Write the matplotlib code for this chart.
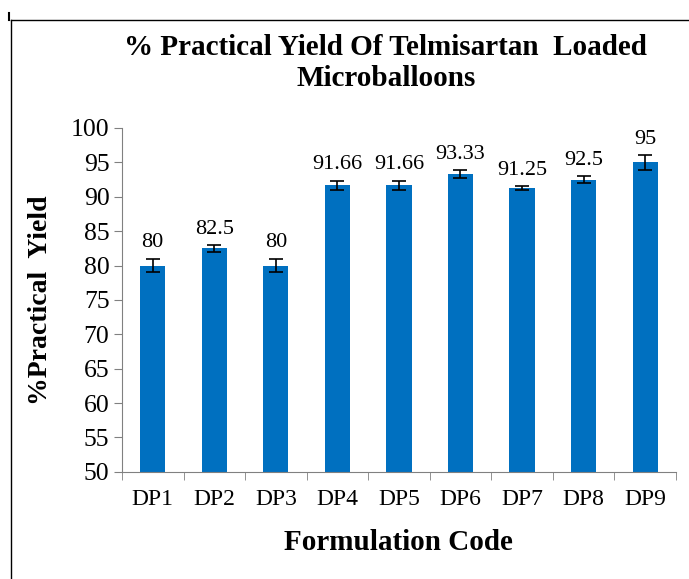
import numpy as np
import matplotlib.pyplot as plt
from matplotlib.lines import Line2D

codes = ["DP1", "DP2", "DP3", "DP4", "DP5", "DP6", "DP7", "DP8", "DP9"]
yields = [80, 82.5, 80, 91.66, 91.66, 93.33, 91.25, 92.5, 95]
errors = [1.0, 0.5, 1.0, 0.7, 0.7, 0.6, 0.25, 0.55, 1.1]
labels = ["80", "82.5", "80", "91.66", "91.66", "93.33", "91.25", "92.5", "95"]

plt.rcParams["font.family"] = ["Liberation Serif", "DejaVu Serif"]

fig = plt.figure(figsize=(6.89, 5.79), dpi=100)
ax = fig.add_axes([0.177, 0.185, 0.804, 0.594])

x = np.arange(len(codes))
ax.bar(x, yields, width=0.41, color="#0070C0", zorder=2)
ax.errorbar(x, yields, yerr=errors, fmt="none", ecolor="black", elinewidth=1.2,
            capsize=5, capthick=1.2, zorder=3)
for xi, y, e, lab in zip(x, yields, errors, labels):
    ax.text(xi, y + e + 0.9, lab, ha="center", va="bottom", fontsize=16)

ax.set_xlim(-0.5, len(codes) - 0.5)
ax.set_ylim(50, 100)
ax.set_yticks(np.arange(50, 101, 5))
ax.set_xticks(x)
ax.set_xticklabels(codes, fontsize=17)
ax.set_xticks(np.arange(-0.5, len(codes), 1), minor=True)
ax.tick_params(axis="x", which="major", length=0, pad=12)
ax.tick_params(axis="x", which="minor", length=6, color="#808080", direction="out")
ax.tick_params(axis="y", labelsize=18.5, length=6, color="#808080", direction="out", pad=3)
for s in ["top", "right"]:
    ax.spines[s].set_visible(False)
for s in ["left", "bottom"]:
    ax.spines[s].set_color("#808080")

ax.set_xlabel("Formulation Code", fontsize=21, fontweight="bold", labelpad=14)
ax.set_ylabel("%Practical  Yield", fontsize=20, fontweight="bold", labelpad=13)
fig.text(0.56, 0.891, "% Practical Yield Of Telmisartan  Loaded\nMicroballoons",
         ha="center", va="center", fontsize=21, fontweight="bold", linespacing=1.22)

# outer frame lines
fig.add_artist(Line2D([11 / 689, 1], [1 - 20 / 579, 1 - 20 / 579], color="black", lw=1))
fig.add_artist(Line2D([11 / 689, 11 / 689], [0, 1 - 20 / 579], color="black", lw=1))
fig.add_artist(Line2D([9 / 689, 9 / 689], [1 - 20 / 579, 1 - 13 / 579], color="black", lw=1.5))

fig.savefig("out.png", dpi=100)
